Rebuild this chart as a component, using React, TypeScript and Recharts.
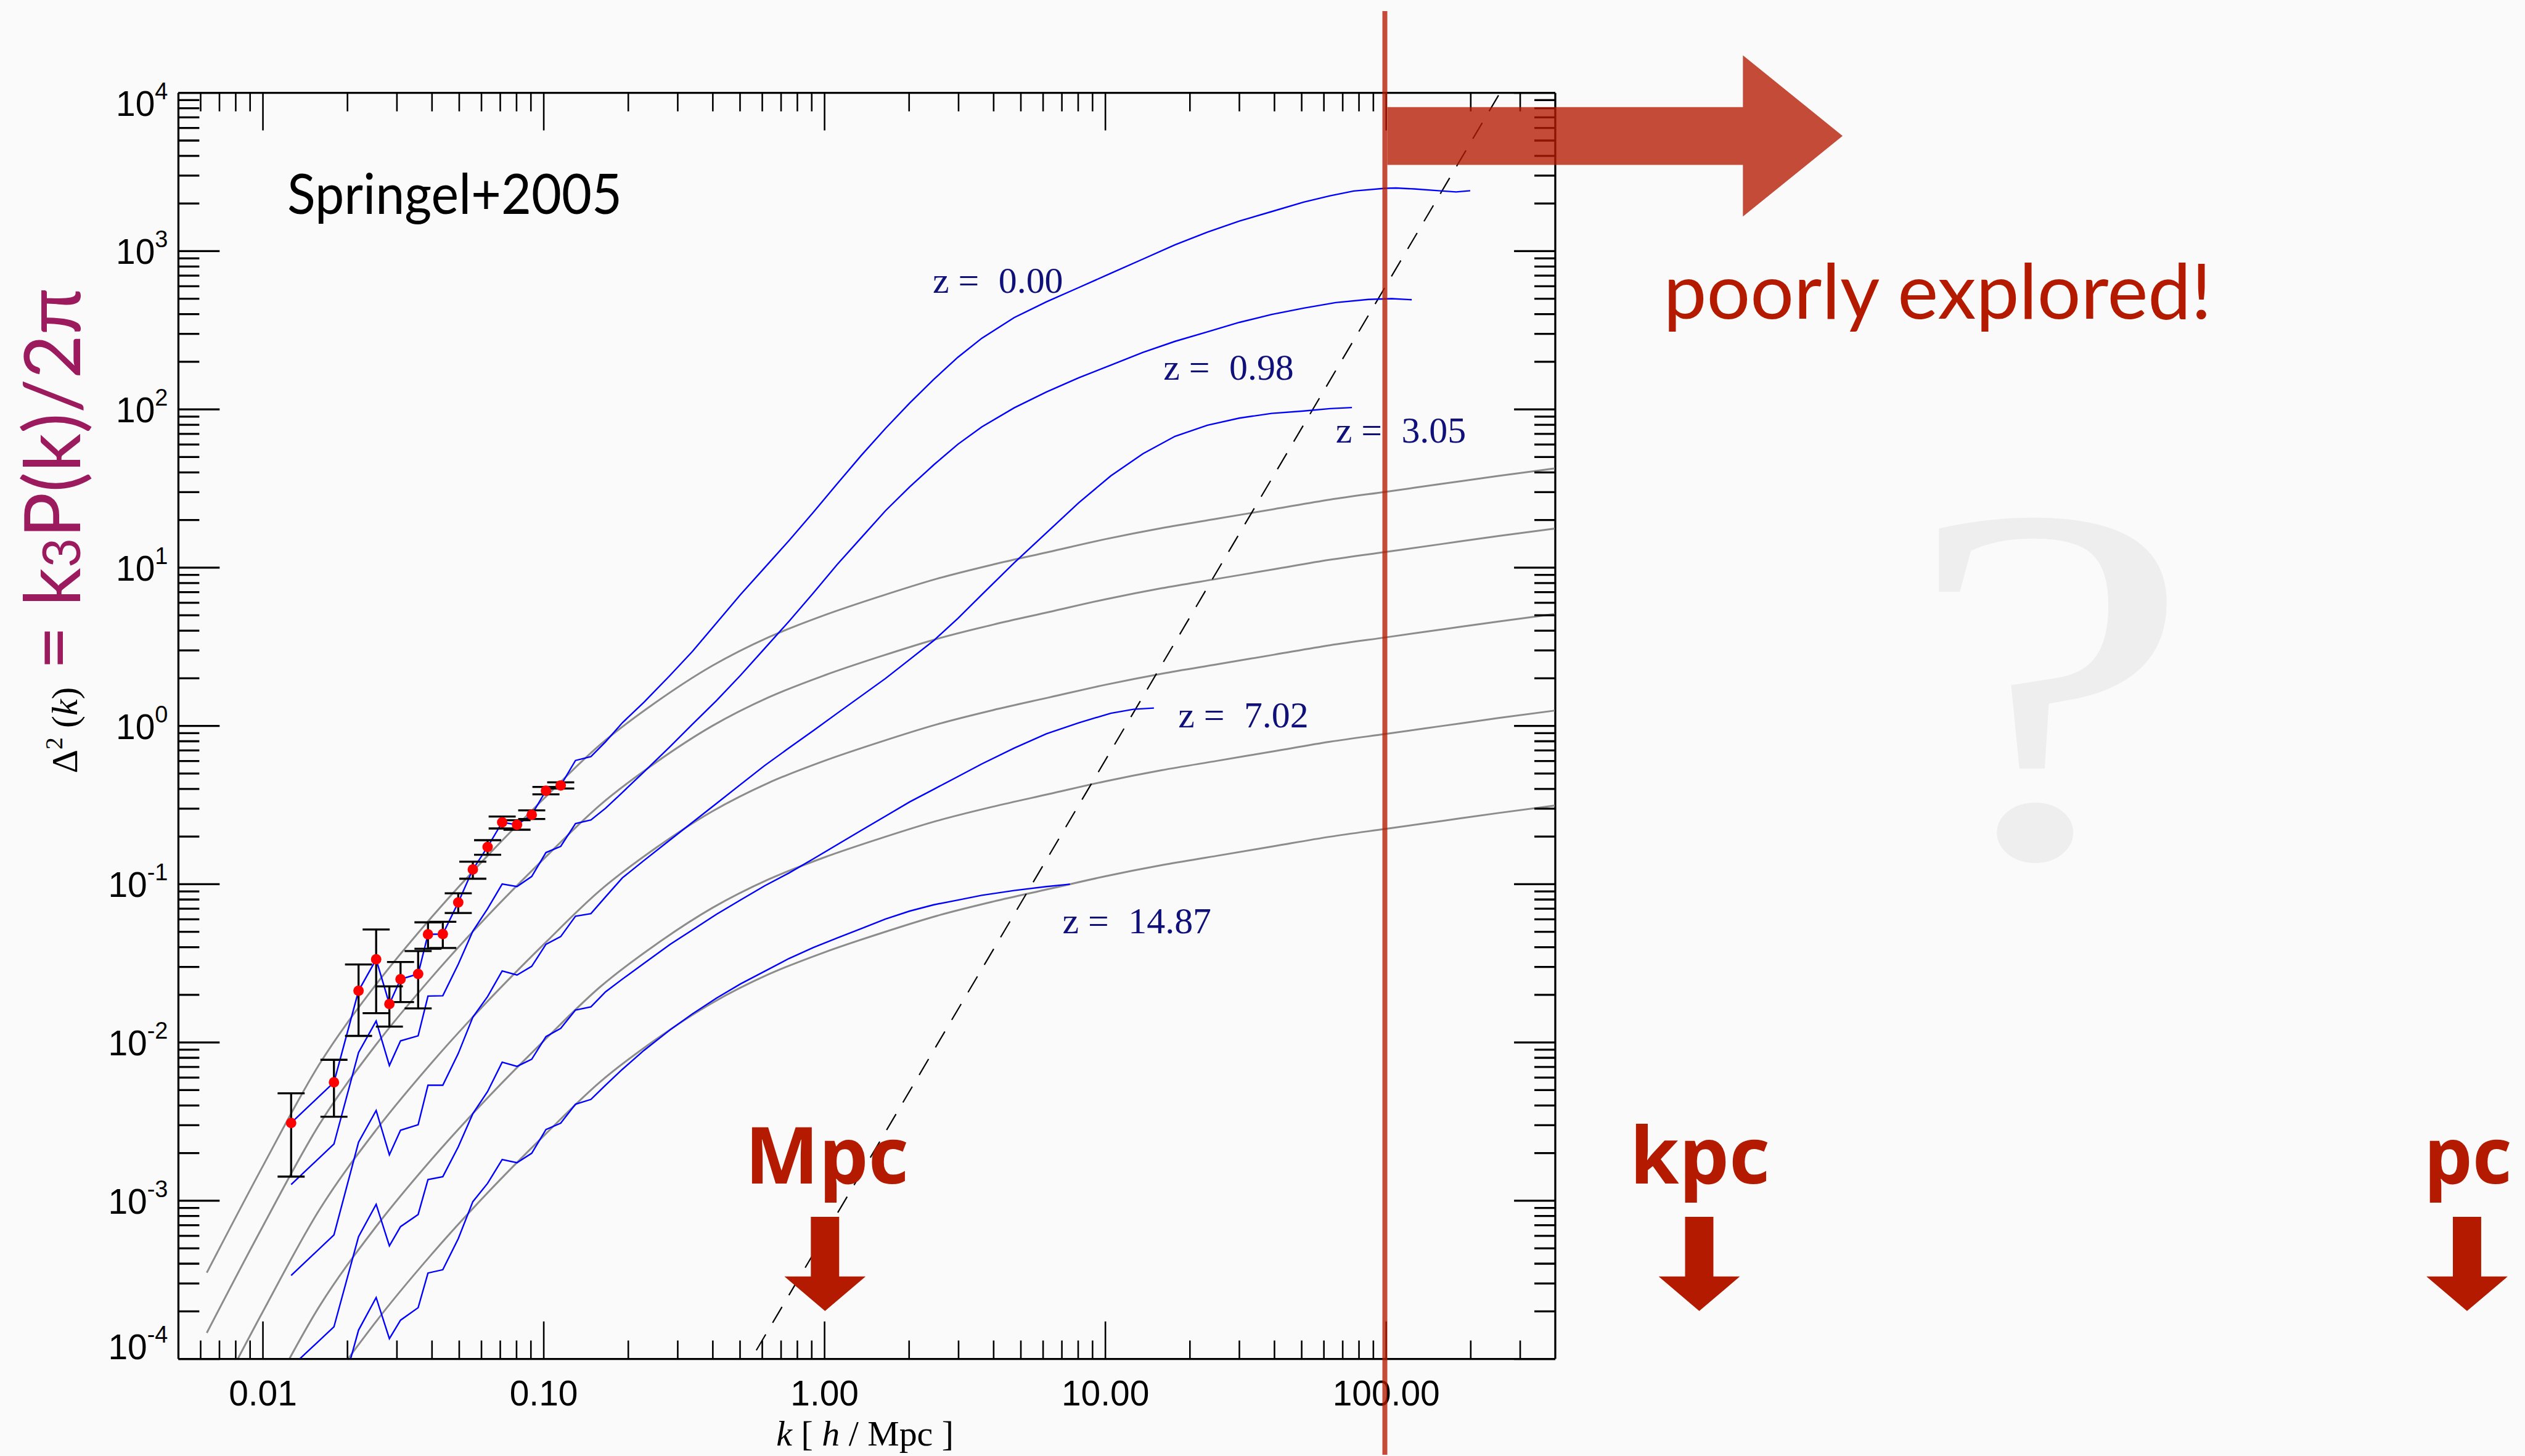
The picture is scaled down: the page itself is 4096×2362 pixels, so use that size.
import React from 'react';
import { ComposedChart, Line, Scatter, ErrorBar, XAxis, YAxis, ReferenceLine } from 'recharts';

// Everything is laid out on a 4102 x 2365 design grid and drawn at scale S.
const S = 0.998;
const W = 4096;
const H = 2362;

// Plot frame on the design grid.
const FRAME = { left: 290, right: 2528, top: 151, bottom: 2209 };

// ---- measured z = 0 power (fundamental + shell bins) ----
const kMeasured = [0.0126, 0.0179, 0.0219, 0.0253, 0.0282, 0.0309, 0.0357, 0.0387, 0.0437, 0.0496, 0.0559, 0.0631, 0.0711, 0.0803, 0.0906, 0.1018, 0.1149];
const pMeasured = [0.0031, 0.0056, 0.0212, 0.0335, 0.0175, 0.0251, 0.0271, 0.0482, 0.0484, 0.0766, 0.1239, 0.1719, 0.246, 0.2373, 0.2748, 0.3898, 0.4208];
const pMeasuredLo = [0.00142, 0.00339, 0.011, 0.0153, 0.0126, 0.018, 0.0164, 0.0391, 0.0395, 0.0658, 0.1083, 0.1536, 0.2249, 0.2209, 0.2581, 0.3693, 0.4024];
const pMeasuredHi = [0.00477, 0.00777, 0.0311, 0.0517, 0.0226, 0.0322, 0.0378, 0.0574, 0.0579, 0.0876, 0.1387, 0.1897, 0.2676, 0.2535, 0.2926, 0.4112, 0.4399];

// ---- simulation curves: k bins beyond the measured range ----
const kHigh = [0.1297, 0.1472, 0.166, 0.1905, 0.2275, 0.2818, 0.338, 0.412, 0.502, 0.612, 0.746, 0.912, 1.109, 1.352, 1.648, 2.009, 2.449, 2.985, 3.631, 4.732, 6.166, 8.035, 10.45, 13.61, 17.7, 23.07, 29.99, 39.08, 50.82, 63.1];

const z000High = [0.605, 0.64, 0.794, 1.047, 1.413, 2.089, 2.951, 4.467, 6.761, 10.0, 14.79, 22.39, 33.88, 51.29, 75.86, 109.6, 154.9, 213.8, 281.8, 380.2, 478.6, 588.8, 724.4, 891.3, 1096, 1318, 1549, 1778, 2042, 2239];
const z000TailK = [76.6, 98.9, 108.4, 125.9, 153.5, 177.4, 199.1];
const z000TailP = [2399, 2495, 2506, 2472, 2410, 2366, 2410];

const z098Low = [0.001265, 0.00228, 0.00863, 0.01365, 0.00715, 0.01023, 0.01102, 0.01963, 0.01972, 0.03119, 0.05047, 0.06998, 0.1002, 0.0966, 0.1119, 0.1585, 0.1734];
const z098High = [0.2415, 0.2547, 0.302, 0.38, 0.513, 0.741, 1.023, 1.445, 2.089, 3.09, 4.571, 6.918, 10.47, 15.49, 22.91, 32.36, 44.67, 60.26, 77.62, 102.3, 128.8, 158.5, 190.5, 229.1, 269.2, 309.0, 354.8, 398.1, 436.5];
const z098TailK = [66.07, 86.3, 104.7, 123.3];
const z098TailP = [473.2, 495.5, 501.2, 493.2];

const z305Low = [0.000337, 0.000608, 0.002344, 0.003715, 0.00195, 0.002786, 0.00302, 0.00537, 0.00537, 0.008511, 0.01445, 0.0195, 0.02831, 0.02667, 0.03027, 0.04169, 0.04667];
const z305High = [0.0628, 0.0652, 0.0832, 0.1096, 0.1413, 0.1905, 0.2455, 0.3236, 0.4266, 0.5623, 0.7244, 0.9333, 1.202, 1.549, 1.995, 2.63, 3.467, 4.786, 6.761, 10.72, 16.6, 25.7, 38.02, 52.48, 67.61, 79.43, 88.1, 94.41, 97.72, 101.2];
const z305TailK = [75.5];
const z305TailP = [102.8];

const z702Low = [8.91e-5, 1.596e-4, 5.929e-4, 9.484e-4, 5.188e-4, 6.855e-4, 8.185e-4, 1.361e-3, 1.419e-3, 2.188e-3, 3.548e-3, 4.898e-3, 7.499e-3, 7.063e-3, 7.834e-3, 0.01089, 0.01227];
const z702High = [0.01603, 0.01679, 0.02089, 0.02512, 0.03162, 0.04169, 0.05129, 0.06457, 0.07943, 0.09772, 0.1175, 0.1445, 0.1778, 0.2188, 0.2692, 0.3311, 0.3981, 0.4786, 0.5754, 0.7244, 0.8913, 1.047, 1.202];
const z702TailK = [12.59, 14.89];
const z702TailP = [1.274, 1.297];

const z1487Low = [2.291e-5, 4.169e-5, 1.521e-4, 2.443e-4, 1.343e-4, 1.758e-4, 2.109e-4, 3.491e-4, 3.664e-4, 5.754e-4, 9.863e-4, 1.288e-3, 1.82e-3, 1.738e-3, 1.995e-3, 2.818e-3, 3.09e-3];
const z1487High = [4.074e-3, 4.365e-3, 5.37e-3, 6.761e-3, 8.913e-3, 0.01202, 0.01514, 0.01905, 0.02344, 0.02818, 0.03388, 0.03981, 0.04571, 0.05248, 0.06026, 0.06761, 0.07413, 0.07943, 0.08511, 0.0912, 0.09661];
const z1487TailK = [7.48];
const z1487TailP = [0.1];

// ---- linear theory ----
const kLinear = [0.00631, 0.01, 0.01585, 0.02512, 0.03981, 0.0631, 0.1, 0.1585, 0.2512, 0.3981, 0.631, 1, 1.585, 2.512, 3.981, 6.31, 10, 15.85, 25.12, 39.81, 63.1, 100, 158.5, 251.2, 398.1];
const lin000 = [3.508e-4, 1.66e-3, 7.244e-3, 0.02291, 0.06166, 0.1514, 0.3467, 0.7586, 1.413, 2.399, 3.631, 5.012, 6.607, 8.511, 10.47, 12.59, 15.14, 17.78, 20.42, 23.44, 26.92, 30.2, 33.88, 38.02, 42.36];
const lin098 = [1.462e-4, 6.918e-4, 3.02e-3, 9.55e-3, 0.0257, 0.0631, 0.1445, 0.3162, 0.5888, 1.0, 1.514, 2.089, 2.754, 3.548, 4.365, 5.248, 6.31, 7.413, 8.511, 9.772, 11.22, 12.59, 14.13, 15.85, 17.66];
const lin305 = [4.217e-5, 1.995e-4, 8.71e-4, 2.754e-3, 7.413e-3, 0.0182, 0.04169, 0.0912, 0.1698, 0.2884, 0.4365, 0.6026, 0.7943, 1.023, 1.259, 1.514, 1.82, 2.138, 2.455, 2.818, 3.236, 3.631, 4.074, 4.571, 5.093];
const lin702 = [1.035e-5, 4.898e-5, 2.138e-4, 6.761e-4, 1.82e-3, 4.467e-3, 0.01023, 0.02239, 0.04169, 0.07079, 0.1072, 0.1479, 0.195, 0.2512, 0.309, 0.3715, 0.4467, 0.5248, 0.6026, 0.6918, 0.7943, 0.8913, 1.0, 1.122, 1.25];
const lin1487 = [2.6e-6, 1.23e-5, 5.37e-5, 1.698e-4, 4.571e-4, 1.122e-3, 2.57e-3, 5.623e-3, 0.01047, 0.01778, 0.02692, 0.03715, 0.04898, 0.0631, 0.07762, 0.09333, 0.1122, 0.1318, 0.1514, 0.1738, 0.1995, 0.2239, 0.2512, 0.2818, 0.3141];

// ---- shot-noise level ----
const kShot = [0.5, 400];
const pShot = [7.6e-5, 3.9e4];

// ---- axis ticks ----
const xMajor = [0.01, 0.1, 1, 10, 100];
const xMajorLabels = ['0.01', '0.10', '1.00', '10.00', '100.00'];
const yMajor = [1e-4, 1e-3, 1e-2, 1e-1, 1, 1e1, 1e2, 1e3, 1e4];
const yMajorExp = ['-4', '-3', '-2', '-1', '0', '1', '2', '3', '4'];
const mantissas = [2, 3, 4, 5, 6, 7, 8, 9];

const xTicks: number[] = [];
[0.001, 0.01, 0.1, 1, 10, 100].forEach((d) => {
  [1, ...mantissas].forEach((m) => {
    const v = +(d * m).toPrecision(6);
    if (v > 0.0052 && v < 390) xTicks.push(v);
  });
});
const yTicks: number[] = [];
yMajor.forEach((d, i) => {
  yTicks.push(d);
  if (i < yMajor.length - 1) mantissas.forEach((m) => yTicks.push(+(d * m).toPrecision(6)));
});

// ---- series assembly ----
const pts = (ks: number[], ps: number[]) => ks.map((k, i) => ({ k, p: ps[i] }));
const simSeries = (low: number[], high: number[], tailK: number[], tailP: number[]) =>
  pts([...kMeasured, ...kHigh.slice(0, high.length), ...tailK], [...low, ...high, ...tailP]);

const simulation = [
  simSeries(pMeasured, z000High, z000TailK, z000TailP),
  simSeries(z098Low, z098High, z098TailK, z098TailP),
  simSeries(z305Low, z305High, z305TailK, z305TailP),
  simSeries(z702Low, z702High, z702TailK, z702TailP),
  simSeries(z1487Low, z1487High, z1487TailK, z1487TailP),
];
const linear = [lin000, lin098, lin305, lin702, lin1487].map((v) => pts(kLinear, v));
const shot = pts(kShot, pShot);
const measured = kMeasured.map((k, i) => ({
  k,
  p: pMeasured[i],
  err: [pMeasured[i] - pMeasuredLo[i], pMeasuredHi[i] - pMeasured[i]],
}));

const redshiftLabels = [
  { text: '0.00', x: 1516, y: 476 },
  { text: '0.98', x: 1891, y: 617 },
  { text: '3.05', x: 2171, y: 719 },
  { text: '7.02', x: 1915, y: 1182 },
  { text: '14.87', x: 1727, y: 1517 },
];

const SANS = "'Liberation Sans', Arial, Helvetica, sans-serif";
const SERIF = "'Liberation Serif', 'Times New Roman', serif";
const RED = '#b41a00';

const isMajor = (v: number) => {
  const l = Math.log10(v);
  return Math.abs(l - Math.round(l)) < 1e-6;
};

function XTick(props: any) {
  const { x, payload } = props;
  const v = payload.value;
  const major = isMajor(v);
  const idx = major ? xMajor.findIndex((m) => Math.abs(Math.log10(m) - Math.log10(v)) < 1e-6) : -1;
  const len = (major ? 61 : 30) * S;
  const top = FRAME.top * S;
  const bot = FRAME.bottom * S;
  return (
    <g>
      <line x1={x} x2={x} y1={bot} y2={bot - len} stroke="#000" strokeWidth={2.6 * S} />
      <line x1={x} x2={x} y1={top} y2={top + len} stroke="#000" strokeWidth={2.6 * S} />
      {idx >= 0 && (
        <text x={x} y={(FRAME.bottom + 76) * S} textAnchor="middle" fontFamily={SANS} fontSize={57 * S} fill="#000">
          {xMajorLabels[idx]}
        </text>
      )}
    </g>
  );
}

function YTick(props: any) {
  const { y, payload } = props;
  const v = payload.value;
  const major = isMajor(v);
  const e = Math.round(Math.log10(v));
  const len = (major ? 67 : 34) * S;
  const l = FRAME.left * S;
  const r = FRAME.right * S;
  const shift = e === 4 ? 37 : e === -4 ? 0 : 21;
  return (
    <g>
      <line x1={l} x2={l + len} y1={y} y2={y} stroke="#000" strokeWidth={3.3 * S} />
      <line x1={r} x2={r - len} y1={y} y2={y} stroke="#000" strokeWidth={3.3 * S} />
      {major && (
        <text x={273 * S} y={y + shift * S} textAnchor="end" fontFamily={SANS} fontSize={57 * S} fill="#000">
          10
          <tspan dy={-27 * S} fontSize={38 * S}>{yMajorExp[e + 4]}</tspan>
        </text>
      )}
    </g>
  );
}

const downArrow = (c: number) =>
  `${c - 23},1978 ${c + 23},1978 ${c + 23},2075 ${c + 66},2075 ${c},2131 ${c - 66},2075 ${c - 23},2075`;

function Annotations() {
  return (
    <svg
      width={4102 * S}
      height={2365 * S}
      viewBox="0 0 4102 2365"
      style={{ position: 'absolute', left: 0, top: 0, pointerEvents: 'none' }}
    >
      {/* faint question mark */}
      <text
        transform="translate(3331,1391) scale(1.27,1)"
        textAnchor="middle"
        fontFamily={SERIF}
        fontSize={830}
        fill="#eeeeee"
      >
        ?
      </text>

      <text x={467} y={348} fontFamily="Lato, 'Open Sans', sans-serif" fontSize={92} textLength={544} lengthAdjust="spacingAndGlyphs" fill="#000">
        Springel+2005
      </text>

      {redshiftLabels.map((l) => (
        <g key={l.text} fontFamily={SERIF} fontSize={60} fill="#10107a">
          <text x={l.x} y={l.y}>z =</text>
          <text x={l.x + 107} y={l.y}>{l.text}</text>
        </g>
      ))}

      {/* axis titles */}
      <text x={1406} y={2350} textAnchor="middle" fontFamily={SERIF} fontSize={58} fill="#000">
        <tspan fontStyle="italic">k</tspan> [ <tspan fontStyle="italic">h</tspan> / Mpc ]
      </text>
      <text transform="translate(125,1257) rotate(-90)" fontFamily={SERIF} fontSize={60} fill="#000">
        Δ<tspan dy={-24} fontSize={40}>2</tspan>
        <tspan dy={24}> (</tspan>
        <tspan fontStyle="italic">k</tspan>)
      </text>
      <text
        transform="translate(130,1089) rotate(-90)"
        fontFamily="Lato, 'Open Sans', sans-serif"
        fontSize={127}
        fill="#9c1a5e"
        textLength={621}
        lengthAdjust="spacingAndGlyphs"
      >
        = k<tspan fontSize={86}>3</tspan>P(k)/2π
      </text>

      <text x={2704} y={518} fontFamily="Lato, 'Open Sans', sans-serif" fontSize={124} textLength={891} lengthAdjust="spacingAndGlyphs" fill={RED}>
        poorly explored!
      </text>

      {/* scale markers */}
      <g fontFamily="'Open Sans', Lato, sans-serif" fontWeight={700} fontSize={127} fill={RED}>
        <text x={1211} y={1924} textLength={266} lengthAdjust="spacingAndGlyphs">Mpc</text>
        <text x={2649} y={1924} textLength={228} lengthAdjust="spacingAndGlyphs">kpc</text>
        <text x={3940} y={1924} textLength={143} lengthAdjust="spacingAndGlyphs">pc</text>
      </g>
      <polygon points={downArrow(1341)} fill={RED} />
      <polygon points={downArrow(2762)} fill={RED} />
      <polygon points={downArrow(4010)} fill={RED} />

      {/* resolution limit and the unexplored direction */}
      <rect x={2247} y={18} width={8} height={2347} fill={RED} fillOpacity={0.78} />
      <polygon
        points="2255,174 2833,174 2833,90 2995,221 2833,352 2833,268 2255,268"
        fill={RED}
        fillOpacity={0.78}
      />
    </svg>
  );
}

export default function App() {
  const YAXIS_W = 120;
  const XAXIS_H = 100;
  const margin = {
    top: FRAME.top * S,
    right: W - FRAME.right * S,
    bottom: H - FRAME.bottom * S - XAXIS_H,
    left: FRAME.left * S - YAXIS_W,
  };
  const simColor = '#0000ff';
  const linColor = '#8c8c8c';
  return (
    <div style={{ position: 'fixed', left: 0, top: 0, width: W, height: H, background: '#fafafa', overflow: 'hidden' }}>
      <ComposedChart width={W} height={H} margin={margin}>
        <XAxis
          dataKey="k"
          type="number"
          scale="log"
          domain={[0.005, 400]}
          allowDataOverflow
          ticks={xTicks}
          interval={0}
          tick={<XTick />}
          tickLine={false}
          height={XAXIS_H}
          axisLine={{ stroke: '#000', strokeWidth: 3.3 * S }}
        />
        <YAxis
          dataKey="p"
          type="number"
          scale="log"
          domain={[1e-4, 1e4]}
          allowDataOverflow
          ticks={yTicks}
          interval={0}
          tick={<YTick />}
          tickLine={false}
          width={YAXIS_W}
          axisLine={{ stroke: '#000', strokeWidth: 3.3 * S }}
        />
        <ReferenceLine y={1e4} stroke="#000" strokeWidth={3.3 * S} />
        <ReferenceLine x={400} stroke="#000" strokeWidth={3.3 * S} />

        {linear.map((d, i) => (
          <Line
            key={'lin' + i}
            data={d}
            dataKey="p"
            type="monotone"
            stroke={linColor}
            strokeWidth={3 * S}
            dot={false}
            activeDot={false}
            isAnimationActive={false}
          />
        ))}
        <Line
          data={shot}
          dataKey="p"
          type="linear"
          stroke="#000"
          strokeWidth={2.2 * S}
          strokeDasharray={`${30 * S} ${22 * S}`}
          dot={false}
          activeDot={false}
          isAnimationActive={false}
        />
        {simulation.map((d, i) => (
          <Line
            key={'sim' + i}
            data={d}
            dataKey="p"
            type="linear"
            stroke={simColor}
            strokeWidth={2.4 * S}
            dot={false}
            activeDot={false}
            isAnimationActive={false}
          />
        ))}
        <Scatter
          data={measured}
          dataKey="p"
          isAnimationActive={false}
          shape={(p: any) => <circle cx={p.cx} cy={p.cy} r={8.5 * S} fill="#ff0000" />}
        >
          <ErrorBar dataKey="err" direction="y" width={22 * S} strokeWidth={3.3 * S} stroke="#000" isAnimationActive={false} />
        </Scatter>
      </ComposedChart>
      <Annotations />
    </div>
  );
}
